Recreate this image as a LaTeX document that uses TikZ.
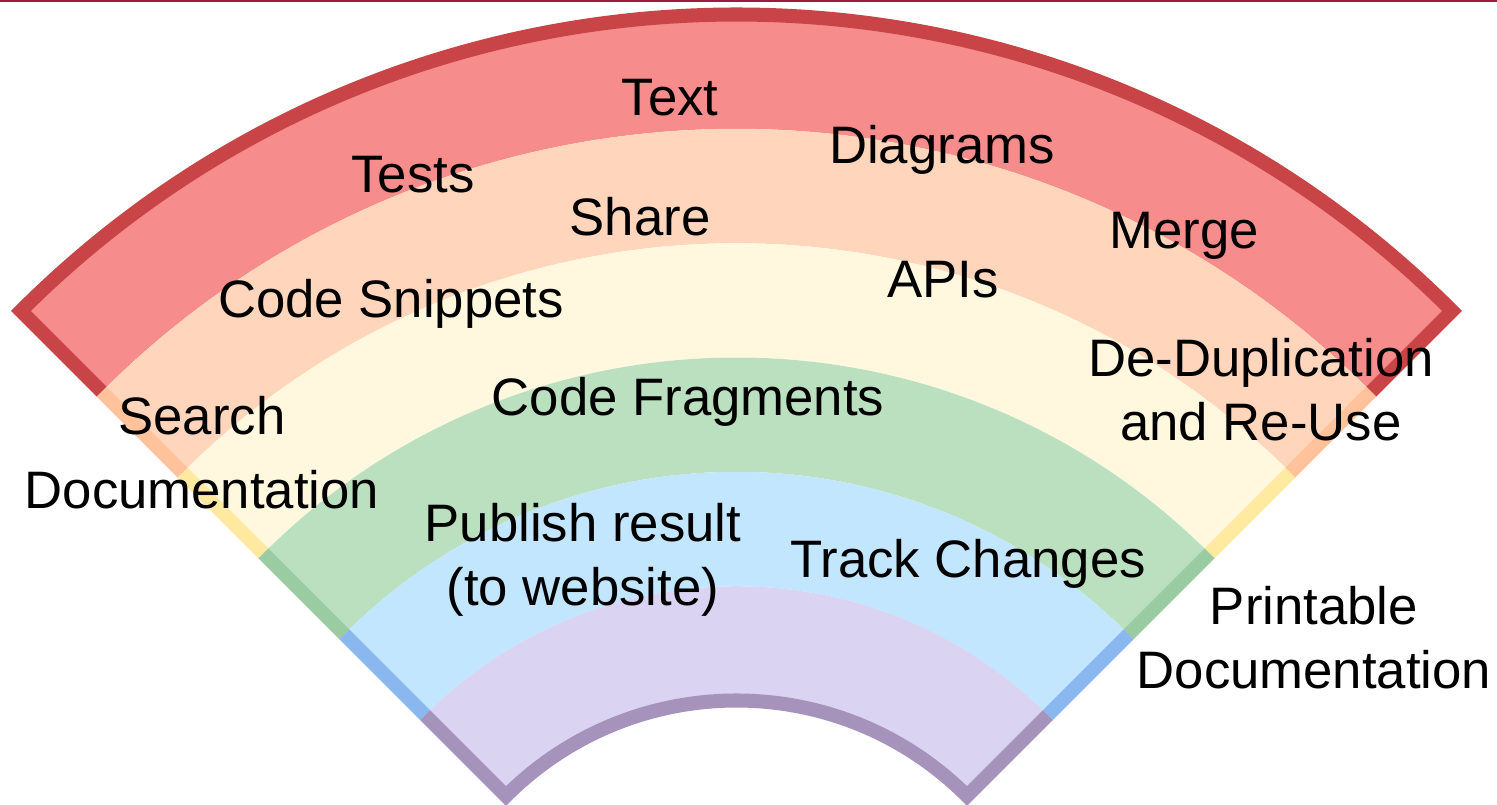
\documentclass[tikz,border=0pt]{standalone}
\usepackage{fontspec}
\setmainfont{Liberation Sans}
\definecolor{topline}{HTML}{9B1C3F}
\definecolor{redfill}{HTML}{F68C8C}
\definecolor{redline}{HTML}{C84446}
\definecolor{peachfill}{HTML}{FFD5BB}
\definecolor{peachline}{HTML}{FFC29A}
\definecolor{yellowfill}{HTML}{FFF8DE}
\definecolor{yellowline}{HTML}{FFE9A0}
\definecolor{greenfill}{HTML}{BBE0C0}
\definecolor{greenline}{HTML}{9BCBA0}
\definecolor{bluefill}{HTML}{C2E6FD}
\definecolor{blueline}{HTML}{8AB8EE}
\definecolor{purplefill}{HTML}{DAD3F1}
\definecolor{purpleline}{HTML}{A693BB}

\begin{document}
\begin{tikzpicture}[
  lbl/.style={font=\fontsize{15}{18}\selectfont, inner sep=0pt, align=center, anchor=base},
  rim/.style={line width=4pt, line join=miter}]
  \useasboundingbox (0,0) rectangle (14.97,8.04);
  \fill[topline] (0,8.02) rectangle (14.97,8.04);

  % the fan, centred below the page
  \begin{scope}[shift={(7.365,-2.225)}]
    \fill[redfill]    (45:10.12) arc(45:135:10.12) -- (135:8.977) arc(135:45:8.977) -- cycle;
    \fill[peachfill]  (45:8.977) arc(45:135:8.977) -- (135:7.833) arc(135:45:7.833) -- cycle;
    \fill[yellowfill] (45:7.833) arc(45:135:7.833) -- (135:6.69)  arc(135:45:6.69)  -- cycle;
    \fill[greenfill]  (45:6.69)  arc(45:135:6.69)  -- (135:5.547) arc(135:45:5.547) -- cycle;
    \fill[bluefill]   (45:5.547) arc(45:135:5.547) -- (135:4.403) arc(135:45:4.403) -- cycle;
    \fill[purplefill] (45:4.403) arc(45:135:4.403) -- (135:3.26)  arc(135:45:3.26)  -- cycle;

    \draw[rim, redline]    (135:8.977) -- (135:10.12) arc(135:45:10.12) -- (45:8.977);
    \draw[rim, peachline]  (135:7.833) -- (135:8.977) (45:7.833) -- (45:8.977);
    \draw[rim, yellowline] (135:6.69)  -- (135:7.833) (45:6.69)  -- (45:7.833);
    \draw[rim, greenline]  (135:5.547) -- (135:6.69)  (45:5.547) -- (45:6.69);
    \draw[rim, blueline]   (135:4.403) -- (135:5.547) (45:4.403) -- (45:5.547);
    \draw[rim, purpleline] (135:4.403) -- (135:3.26) arc(135:45:3.26) -- (45:4.403);
  \end{scope}

  \node[lbl] (text)     at (6.70,6.89)  {Text};
  \node[lbl] (tests)    at (4.13,6.12)  {Tests};
  \node[lbl] (diagrams) at (9.42,6.41)  {Diagrams};
  \node[lbl] (share)    at (6.40,5.69)  {Share};
  \node[lbl] (merge)    at (11.84,5.56) {Merge};
  \node[lbl] (snippets) at (3.91,4.87)  {Code Snippets};
  \node[lbl] (apis)     at (9.43,5.07)  {APIs};
  \node[lbl] (dedup)    at (12.61,3.64) {De-Duplication\\and Re-Use};
  \node[lbl] (frags)    at (6.88,3.89)  {Code Fragments};
  \node[lbl] (search)   at (2.02,2.96)  {Search\\[3pt]Documentation};
  \node[lbl] (publish)  at (5.83,1.99)  {Publish result\\(to website)};
  \node[lbl] (track)    at (9.68,2.27)  {Track Changes};
  \node[lbl] (print)    at (13.14,1.16) {Printable\\Documentation};
\end{tikzpicture}
\end{document}
